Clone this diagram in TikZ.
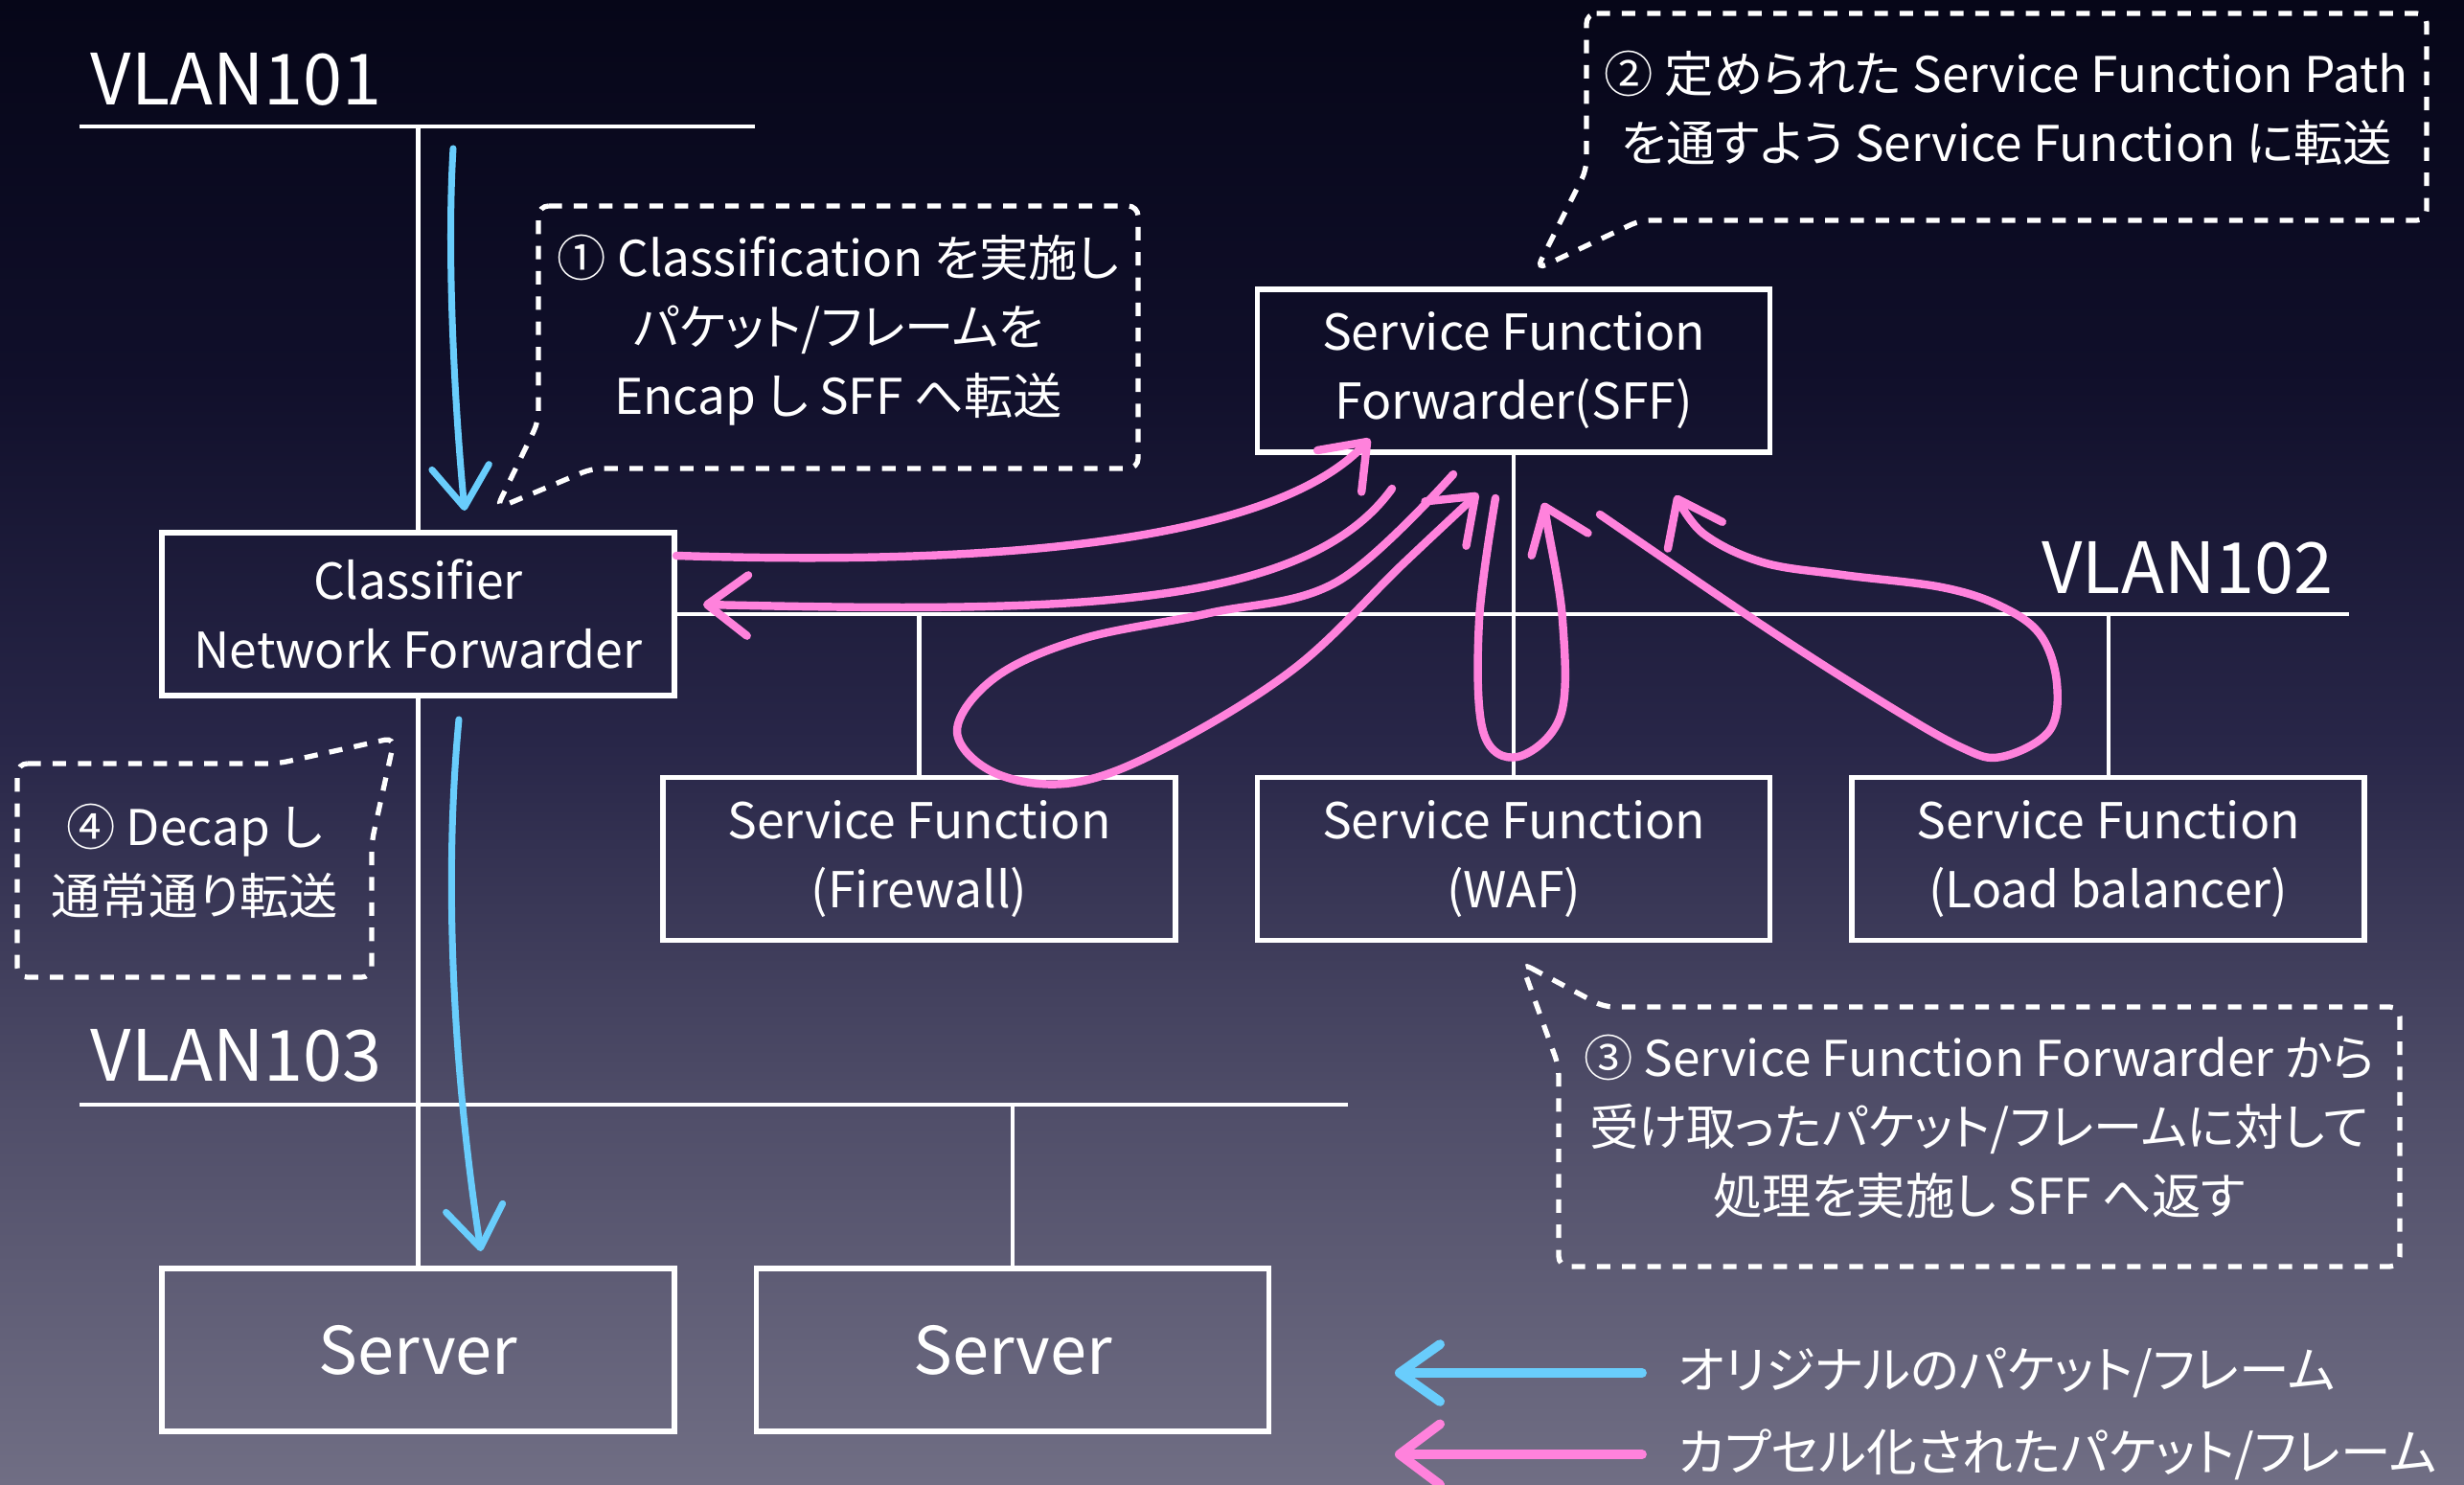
\documentclass[tikz,border=0pt]{standalone}
\usepackage{fontspec}
\setmainfont{Noto Sans CJK JP}[RawFeature={+palt}]
\usetikzlibrary{arrows.meta, positioning}
\definecolor{bgtop}{RGB}{6,6,24}
\definecolor{bghigh}{RGB}{16,15,42}
\definecolor{bgmid}{RGB}{40,38,72}
\definecolor{bglow}{RGB}{80,78,105}
\definecolor{bgbot}{RGB}{112,110,132}
\definecolor{chalkpink}{RGB}{255,130,220}
\definecolor{chalkblue}{RGB}{105,205,252}
\pgfdeclareverticalshading{slidebg}{100bp}{color(0bp)=(bgbot); color(25bp)=(bgbot); color(37.5bp)=(bglow); color(50bp)=(bgmid); color(62.5bp)=(bghigh); color(75bp)=(bgtop); color(100bp)=(bgtop)}

\begin{document}
\begin{tikzpicture}[box node/.style={draw=white, line width=1.6pt, text=white, minimum width=5.35cm, minimum height=1.7cm, inner sep=0pt, align=center, font=\fontsize{14.7}{20.5}\selectfont},
    server node/.style={box node, font=\fontsize{19.5}{24}\selectfont},
    vlan node/.style={text=white, inner sep=0pt, font=\fontsize{21}{24}\selectfont},
    note node/.style={text=white, inner sep=0pt, align=center, font=\fontsize{14.6}{20.5}\selectfont},
    note frame/.style={draw=white, line width=1.5pt, dash pattern=on 4pt off 3.5pt, rounded corners=3pt},
    bus/.style={draw=white, line width=1.2pt},
    chalk pink/.style={draw=chalkpink, line width=2.4pt, line cap=round, line join=round, -{Straight Barb[length=12pt,width=18pt,round]}},
    chalk blue/.style={draw=chalkblue, line width=2pt, line cap=round, line join=round, -{Straight Barb[length=12pt,width=17pt,round]}}]

    \shade[shading=slidebg] (0,0) rectangle (25.72,15.49);
    \useasboundingbox (0,0) rectangle (25.72,15.49);

    \node[box node] (cls) at (4.365,9.08) {Classifier\\Network Forwarder};
    \node[box node] (fw) at (9.595,6.525) {Service Function\\(Firewall)};
    \node[box node] (waf) [right=0.8cm of fw] {Service Function\\(WAF)};
    \node[box node] (lb) [right=0.8cm of waf] {Service Function\\(Load balancer)};
    \node[box node] (sff) [above=3.34cm of waf] {Service Function\\Forwarder(SFF)};
    \node[server node] (srv1) at (4.365,1.40) {Server};
    \node[server node] (srv2) [right=0.8cm of srv1] {Server};

    \coordinate (v101w) at (0.83,14.17);
    \coordinate (v101e) at (7.88,14.17);
    \coordinate (v102e) at (24.52,9.08);
    \coordinate (v103w) at (0.83,3.96);
    \coordinate (v103e) at (14.07,3.96);

    \draw[bus] (v101w) -- (v101e);
    \draw[bus] (cls.east) -- (cls.east -| v102e);
    \draw[bus] (v103w) -- (v103e);
    \draw[bus] (cls.north) -- (cls.north |- v101w);
    \draw[bus] (cls.south) -- (srv1.north);
    \draw[bus] (srv2.north) -- (srv2.north |- v103w);
    \draw[bus] (sff.south) -- (waf.north);
    \draw[bus] (fw.north) -- (fw.north |- v102e);
    \draw[bus] (lb.north) -- (lb.north |- v102e);

    \node[vlan node, anchor=base west] (lbl101) at (0.94,14.39) {VLAN101};
    \node[vlan node, anchor=base west] (lbl103) at (0.94,4.21) {VLAN103};
    \node[vlan node, anchor=base east] (lbl102) at (24.36,9.30) {VLAN102};

    \node[note node] (note1) at (8.75,12.04) {① Classification を実施し\\パケット/フレームを\\Encap し SFF へ転送};
    \draw[note frame] (5.62,13.34) -- (11.88,13.34) -- (11.88,10.60) -- (6.18,10.60) -- (5.18,10.18) -- (5.62,11.09) -- cycle;

    \node[note node] (note2) at (20.945,14.365) {② 定められた Service Function Path\\を通すよう Service Function に転送};
    \draw[note frame] (16.56,15.35) -- (25.33,15.35) -- (25.33,13.19) -- (17.12,13.19) -- (16.04,12.68) -- (16.56,13.72) -- cycle;

    \node[note node] (note3) at (20.66,3.73) {③ Service Function Forwarder から\\受け取ったパケット/フレームに対して\\処理を実施し SFF へ返す};
    \draw[note frame] (15.88,5.44) -- (16.74,4.98) -- (25.05,4.98) -- (25.05,2.27) -- (16.27,2.27) -- (16.27,4.36) -- cycle;

    \node[note node] (note4) at (2.03,6.50) {④ Decap し\\通常通り転送};
    \draw[note frame] (0.18,7.52) -- (2.90,7.52) -- (4.12,7.79) -- (3.88,6.70) -- (3.88,5.29) -- (0.18,5.29) -- cycle;

    \coordinate (b1s) at (4.73,13.94);
    \coordinate (b1e) at (4.85,10.16);
    \coordinate (b2s) at (4.79,7.98);
    \coordinate (b2e) at (5.02,2.43);
    \draw[chalk blue] (b1s) .. controls (4.66,12.8) and (4.75,11.2) .. (b1e);
    \draw[chalk blue] (b2s) .. controls (4.62,6.2) and (4.75,4.2) .. (b2e);

    \coordinate (a1) at (7.06,9.69);
    \coordinate (a2) at (14.30,10.91);
    \coordinate (r1) at (14.53,10.39);
    \coordinate (r2) at (7.34,9.18);
    \draw[chalk pink] (a1) .. controls (10.5,9.58) and (13.3,9.85) .. (a2);
    \draw[chalk pink] (r1) .. controls (13.6,9.1) and (11,9.1) .. (r2);

    \coordinate (f1) at (15.17,10.54);
    \coordinate (f2) at (15.43,10.34);
    \coordinate (w1) at (15.61,10.29);
    \coordinate (w2) at (16.11,10.24);
    \coordinate (l1) at (16.70,10.12);
    \coordinate (l2) at (17.49,10.32);
    \draw[chalk pink] plot[smooth, tension=0.6] coordinates {(f1) (13.96,9.42) (12.62,9.09) (11.29,8.82) (10.39,8.42) (9.99,7.86) (10.39,7.42) (11.20,7.32) (12.18,7.69) (13.52,8.52) (14.63,9.59) (f2)};
    \draw[chalk pink] plot[smooth, tension=0.6] coordinates {(w1) (15.44,9.02) (15.48,7.86) (15.84,7.59) (16.29,8.02) (16.31,9.02) (16.15,10.02) (w2)};
    \draw[chalk pink] plot[smooth, tension=0.6] coordinates {(l1) (18.40,8.96) (19.65,8.16) (20.47,7.69) (20.89,7.59) (21.39,7.86) (21.47,8.36) (21.30,8.86) (20.89,9.16) (20.27,9.36) (19.23,9.49) (18.40,9.62) (17.78,9.92) (l2)};

    \node[note node, anchor=west, font=\fontsize{15}{18}\selectfont] (legorig) at (17.51,1.16) {オリジナルのパケット/フレーム};
    \node[note node, anchor=west, font=\fontsize{15}{18}\selectfont] (legenc) at (17.51,0.31) {カプセル化されたパケット/フレーム};
    \coordinate (lo1) at (17.14,1.16);
    \coordinate (lo2) at (14.56,1.16);
    \coordinate (le1) at (17.14,0.31);
    \coordinate (le2) at (14.56,0.31);
    \draw[chalk blue, line width=2.8pt] (lo1) -- (lo2);
    \draw[chalk pink, line width=2.8pt] (le1) -- (le2);
\end{tikzpicture}
\end{document}
